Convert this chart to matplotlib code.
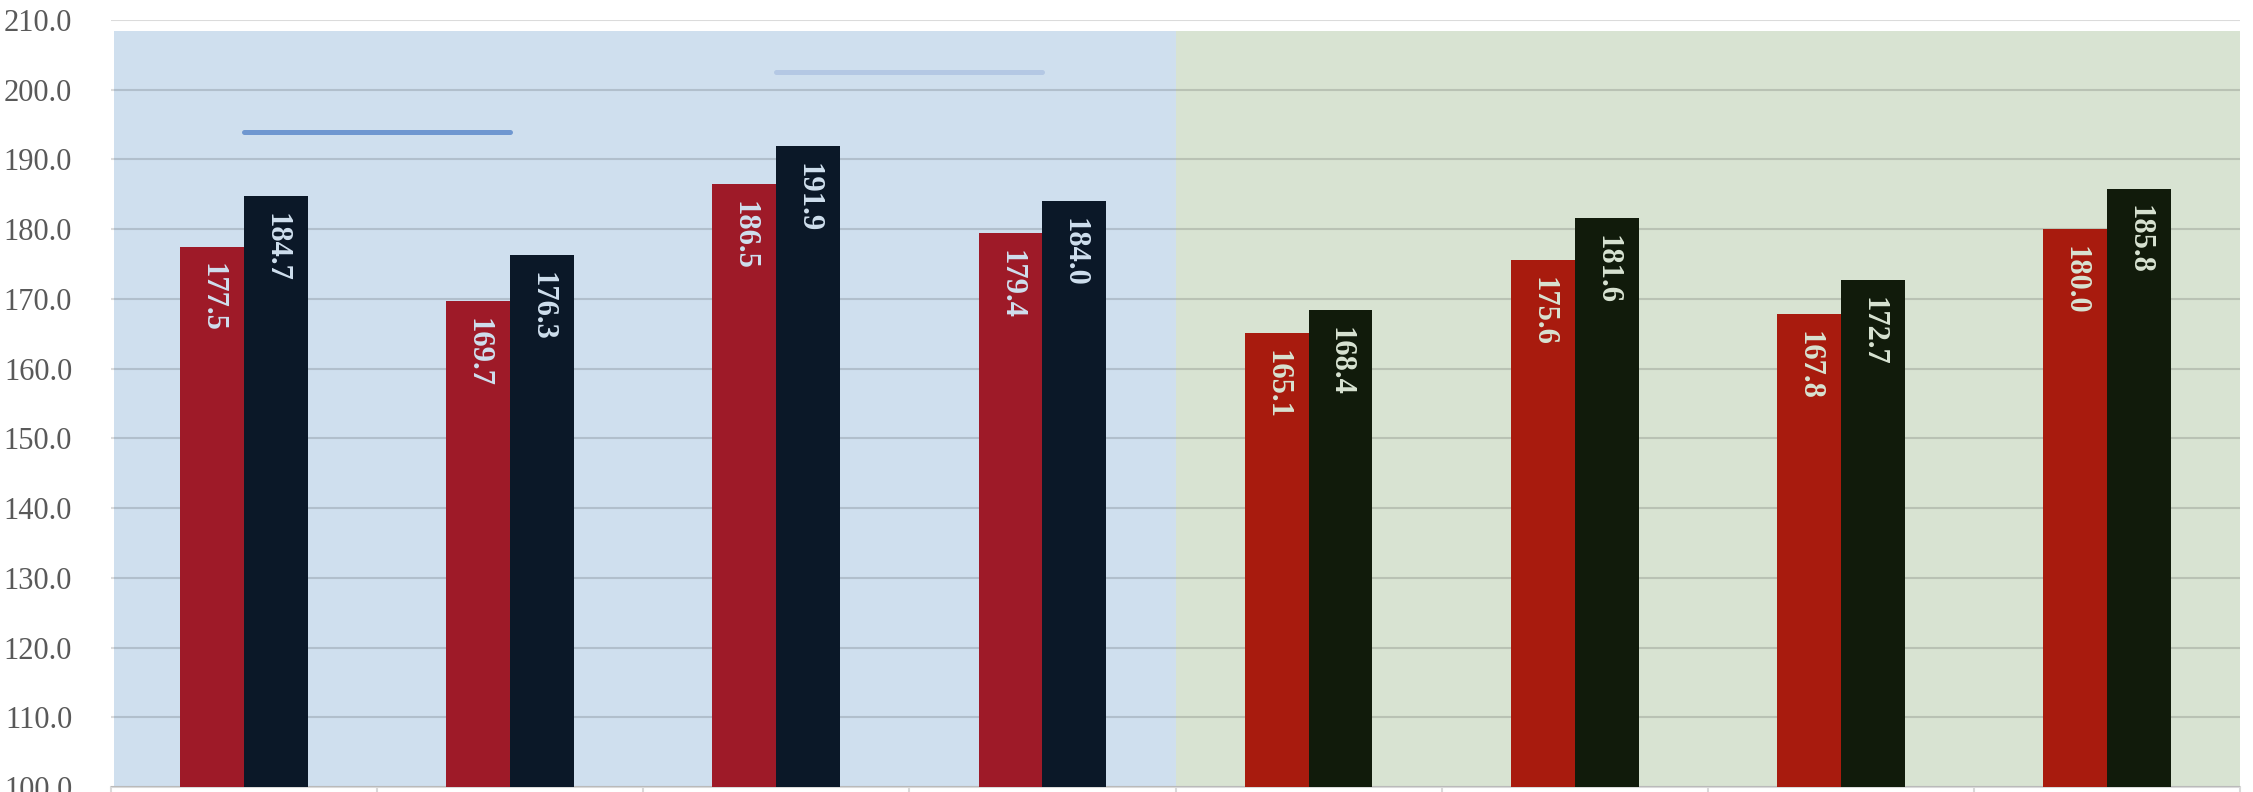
import matplotlib.pyplot as plt
import numpy as np

# data
n_cat = 8
red_vals = [177.5, 169.7, 186.5, 179.4, 165.1, 175.6, 167.8, 180.0]
dark_vals = [184.7, 176.3, 191.9, 184.0, 168.4, 181.6, 172.7, 185.8]
y_ticks = np.arange(100, 211, 10)

# two background bands (blue: groups 0-3, green: groups 4-7)
band_left = [-0.49, 3.5]
band_right = [3.5, 7.5]
band_top = 208.4

# two horizontal bracket lines
line1_x = [0, 1]
line1_y = 193.9
line2_x = [2, 3]
line2_y = 202.6

red_cols = ['#9e1a28'] * 4 + ['#a81b0e'] * 4
dark_cols = ['#0b1828'] * 4 + ['#111b0b'] * 4
bg_cols = ['#cfdfee', '#d8e3d2']
lbl_cols = ['#cfdfee'] * 4 + ['#d8e3d2'] * 4

plt.rcParams['font.family'] = ['Liberation Serif', 'DejaVu Serif']

fig = plt.figure(figsize=(22.53, 7.92), dpi=100)
ax = fig.add_axes([0.0493, 0.0063, 0.9449, 0.9684])

# background bands
for l, r, c in zip(band_left, band_right, bg_cols):
    ax.bar((l + r) / 2, band_top - 100, width=r - l, bottom=100, color=c,
           zorder=0, linewidth=0)

x = np.arange(n_cat)
w = 0.24
ax.bar(x - w / 2, np.array(red_vals) - 100, width=w, bottom=100,
       color=red_cols, zorder=3, linewidth=0)
ax.bar(x + w / 2, np.array(dark_vals) - 100, width=w, bottom=100,
       color=dark_cols, zorder=3, linewidth=0)

# value labels, rotated reading downward
for i in range(n_cat):
    for xv, v in [(x[i] - w / 2, red_vals[i]), (x[i] + w / 2, dark_vals[i])]:
        ax.annotate(f'{v:.1f}', (xv, v), xytext=(0, -12), textcoords='offset points',
                    rotation=-90, rotation_mode='anchor', ha='left', va='center',
                    fontsize=22, fontweight='bold', color=lbl_cols[i], zorder=4)

ax.plot(line1_x, [line1_y] * 2, color='#6f97d0', lw=3.6, solid_capstyle='round', zorder=2)
ax.plot(line2_x, [line2_y] * 2, color='#b4c8e4', lw=3.6, solid_capstyle='round', zorder=2)

ax.set_xlim(-0.5, 7.5)
ax.set_ylim(100, 210)
ax.set_yticks(y_ticks)
ax.set_yticklabels([f'{t:.1f}' for t in y_ticks], fontsize=22, color='#595959')
ax.yaxis.grid(True, color='black', alpha=0.14, lw=1.5, zorder=1)
ax.set_axisbelow(False)
for gl in ax.get_ygridlines():
    gl.set_zorder(1)
ax.tick_params(axis='y', length=0, pad=28)

ax.set_xticks(np.arange(-0.5, 7.6, 1))
ax.set_xticklabels([])
ax.tick_params(axis='x', length=12, color='#d9d9d9', width=1.5)

for s in ['left', 'right', 'top']:
    ax.spines[s].set_visible(False)
ax.spines['bottom'].set_color('#d9d9d9')
ax.spines['bottom'].set_linewidth(1.5)

plt.savefig('out.png', dpi=100)
plt.close(fig)
